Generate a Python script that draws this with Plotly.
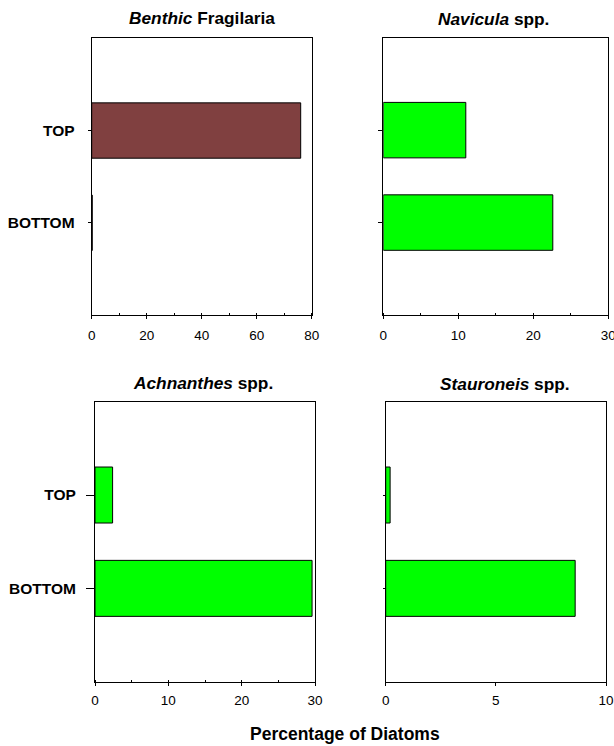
import plotly.graph_objects as go

# Sample positions and diatom percentages for each taxon
positions = ["BOTTOM", "TOP"]
benthic_fragilaria = [0.2, 76.0]
navicula = [22.6, 11.0]
achnanthes = [29.6, 2.4]
stauroneis = [8.6, 0.2]

titles = [
    "<i>Benthic</i> Fragilaria",
    "<i>Navicula</i> spp.",
    "<i>Achnanthes</i> spp.",
    "<i>Stauroneis</i> spp.",
]
x_ranges = [[0, 80], [0, 30], [0, 30], [0, 10]]
x_dticks = [20, 10, 10, 5]
x_minor = [10, 5, 5, None]

W, H = 614, 746
FONT = "Liberation Sans, Arial, sans-serif"

# panel boxes in pixels: (left, right, top, bottom)
boxes = [
    (91.7, 311.7, 38.3, 315.0),
    (383.3, 608.3, 37.7, 315.0),
    (95.0, 315.0, 401.7, 681.7),
    (385.7, 606.0, 401.7, 681.7),
]
ytick_len = [3, 4, 8, 2]
y_standoff = [10, 0, 7, 0]
show_ylabels = [True, False, True, False]
x_standoff = [5, 5, 3, 3]

series = [benthic_fragilaria, navicula, achnanthes, stauroneis]
colors = ["#804040", "#00FF00", "#00FF00", "#00FF00"]

fig = go.Figure()
layout = dict(
    width=W, height=H,
    margin=dict(l=0, r=0, t=0, b=0, autoexpand=False),
    paper_bgcolor="white", plot_bgcolor="white",
    showlegend=False,
    font=dict(family=FONT, color="black"),
)

for i, (vals, col) in enumerate(zip(series, colors)):
    n = "" if i == 0 else str(i + 1)
    xa, ya = "x" + n, "y" + n
    fig.add_trace(go.Bar(
        x=vals, y=positions, orientation="h",
        marker=dict(color=col, line=dict(color="black", width=1)),
        width=0.6, xaxis=xa, yaxis=ya,
    ))
    l, r, t, b = boxes[i]
    xdom = [l / W, r / W]
    ydom = [1 - b / H, 1 - t / H]
    xaxis = dict(
        domain=xdom, range=x_ranges[i], anchor=ya,
        dtick=x_dticks[i], tick0=0, automargin=False,
        ticklabeloverflow="allow",
        showline=True, linecolor="black", linewidth=1, mirror=True,
        ticks="outside", ticklen=3, tickcolor="black",
        showgrid=False, zeroline=False,
        tickfont=dict(size=13.5, family=FONT),
        ticklabelstandoff=x_standoff[i],
    )
    if x_minor[i]:
        xaxis["minor"] = dict(dtick=x_minor[i], ticks="inside", ticklen=2,
                              tickcolor="black", showgrid=False)
    yaxis = dict(
        domain=ydom, anchor=xa, type="category", automargin=False,
        ticklabeloverflow="allow",
        categoryorder="array", categoryarray=positions,
        range=[-1, 2],
        showline=True, linecolor="black", linewidth=1, mirror=True,
        ticks="outside", ticklen=ytick_len[i], tickcolor="black",
        showgrid=False, zeroline=False,
        showticklabels=show_ylabels[i],
        tickfont=dict(size=15.5, family=FONT, weight="bold"),
        ticklabelstandoff=y_standoff[i],
    )
    layout["xaxis" + n] = xaxis
    layout["yaxis" + n] = yaxis

fig.update_layout(**layout)

# panel titles
title_pos = [(201.7, 18), (493, 19), (203, 383), (505, 384)]
for txt, (px, py) in zip(titles, title_pos):
    fig.add_annotation(
        text="<b>" + txt + "</b>", x=px / W, y=1 - py / H,
        xref="paper", yref="paper", showarrow=False,
        xanchor="center", yanchor="middle",
        font=dict(size=17.3, family=FONT, color="black"),
    )

fig.add_annotation(
    text="<b>Percentage of Diatoms</b>", x=345 / W, y=1 - 734 / H,
    xref="paper", yref="paper", showarrow=False,
    xanchor="center", yanchor="middle",
    font=dict(size=17.5, family=FONT, color="black"),
)

fig.write_html("out.html")
